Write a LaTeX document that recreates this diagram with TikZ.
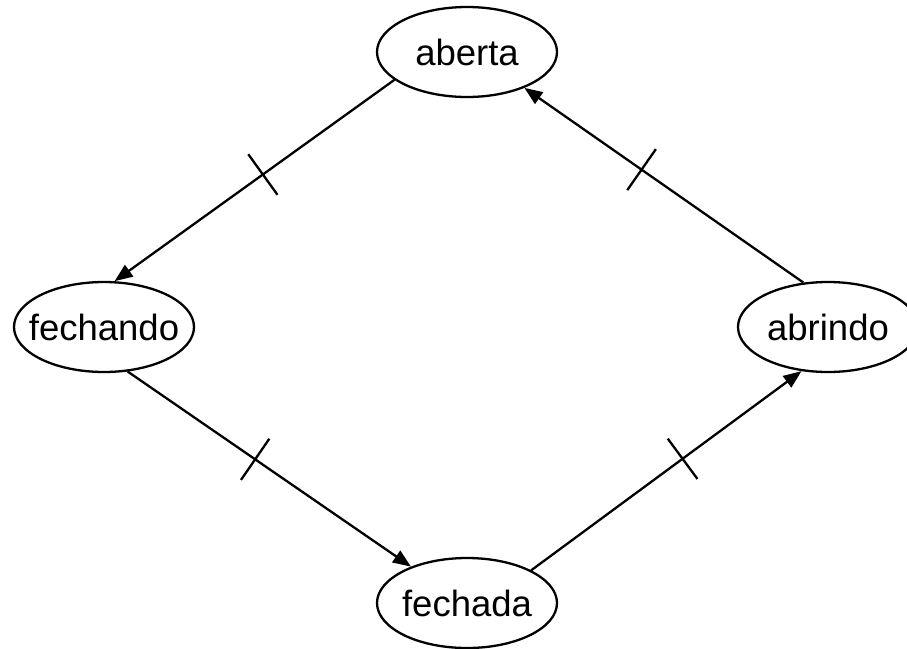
\documentclass[tikz,border=0pt]{standalone}
\usepackage{fontspec}
\setmainfont{Liberation Sans}
\usetikzlibrary{shapes.geometric, arrows.meta, decorations.markings}
\newcommand{\statelabel}[1]{\makebox[0pt]{#1}}
\tikzset{
  state/.style={ellipse, draw, line width=2.3pt, minimum width=180pt,
    minimum height=90pt, inner sep=0pt, font=\fontsize{36.5}{40}\selectfont},
  trans/.style={line width=2.3pt, -{Triangle[length=18pt,width=14pt]}},
  ticked/.style={postaction={decorate}, decoration={markings,
    mark=at position #1 with {\draw[line width=2.3pt, arrows=-] (0,-25pt) -- (0,25pt);}}}
}
\begin{document}
\begin{tikzpicture}[x=1pt,y=-1pt]
\useasboundingbox (0,0) rectangle (907,648);

% states
\node[state] (aberta)   at (467,52)  {\statelabel{aberta}};
\node[state] (fechando) at (104,327) {\statelabel{fechando}};
\node[state] (abrindo)  at (828,327) {\statelabel{abrindo}};
\node[state] (fechada)  at (467,603) {\statelabel{fechada}};

% transitions
\draw[trans, ticked=0.47] (aberta.201)  -- (fechando.77);
\draw[trans, ticked=0.45] (fechando.298) -- (fechada.147);
\draw[trans, ticked=0.56] (fechada.27)  -- (abrindo.239);
\draw[trans, ticked=0.58] (abrindo.119) -- (aberta.328);
\end{tikzpicture}
\end{document}
